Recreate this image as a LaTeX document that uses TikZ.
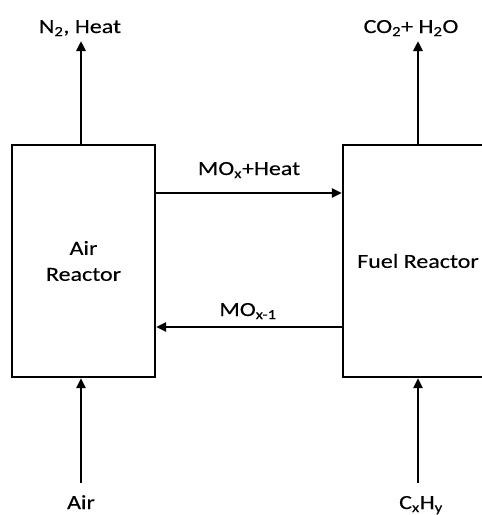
\documentclass[tikz,border=0pt]{standalone}
\usepackage{fontspec}
\setmainfont[FakeStretch=1.2,FakeBold=0.2]{Carlito}
\usetikzlibrary{arrows.meta}
\begin{document}
\begin{tikzpicture}[x=1pt,y=-1pt,
  reactor/.style={draw,line width=2.3pt,rectangle,minimum height=232pt,inner sep=0pt,align=center,font=\fontsize{20}{26}\selectfont},
  lbl/.style={inner sep=0pt,font=\fontsize{20}{26}\selectfont},
  arr/.style={line width=2.8pt,-{Triangle[length=10pt,width=9pt]}}]
\useasboundingbox (0,0) rectangle (482,515);
\clip (0,0) rectangle (482,515);
\node[reactor,minimum width=143pt] (air) at (83.5,261) {Air\\Reactor};
\node[reactor,minimum width=150pt] (fuel) at (418,261) {Fuel Reactor};
\node[lbl,anchor=base] (n2) at (80,33) {N\textsubscript{2}, Heat};
\node[lbl,anchor=base] (co2) at (411,33) {CO\textsubscript{2}+ H\textsubscript{2}O};
\node[lbl,anchor=base] (air in) at (81,509) {Air};
\node[lbl,anchor=base] (cxhy) at (421,509) {C\textsubscript{x}H\textsubscript{y}};
\node[lbl,anchor=base] (mox) at (249,175) {MO\textsubscript{x}+Heat};
\node[lbl,anchor=base] (mox1) at (248,316) {MO\textsubscript{x-1}};
\coordinate (t1) at (81,41);
\coordinate (t2) at (418,41);
\coordinate (b1) at (81,483);
\coordinate (b2) at (418,483);
\draw[arr] (air.north -| t1) -- (t1);
\draw[arr] (fuel.north -| t2) -- (t2);
\draw[arr] (b1) -- (air.south -| b1);
\draw[arr] (b2) -- (fuel.south -| b2);
\draw[arr] (air.east |- 0,193) -- (fuel.west |- 0,193);
\draw[arr] (fuel.west |- 0,327) -- (air.east |- 0,327);
\end{tikzpicture}
\end{document}
